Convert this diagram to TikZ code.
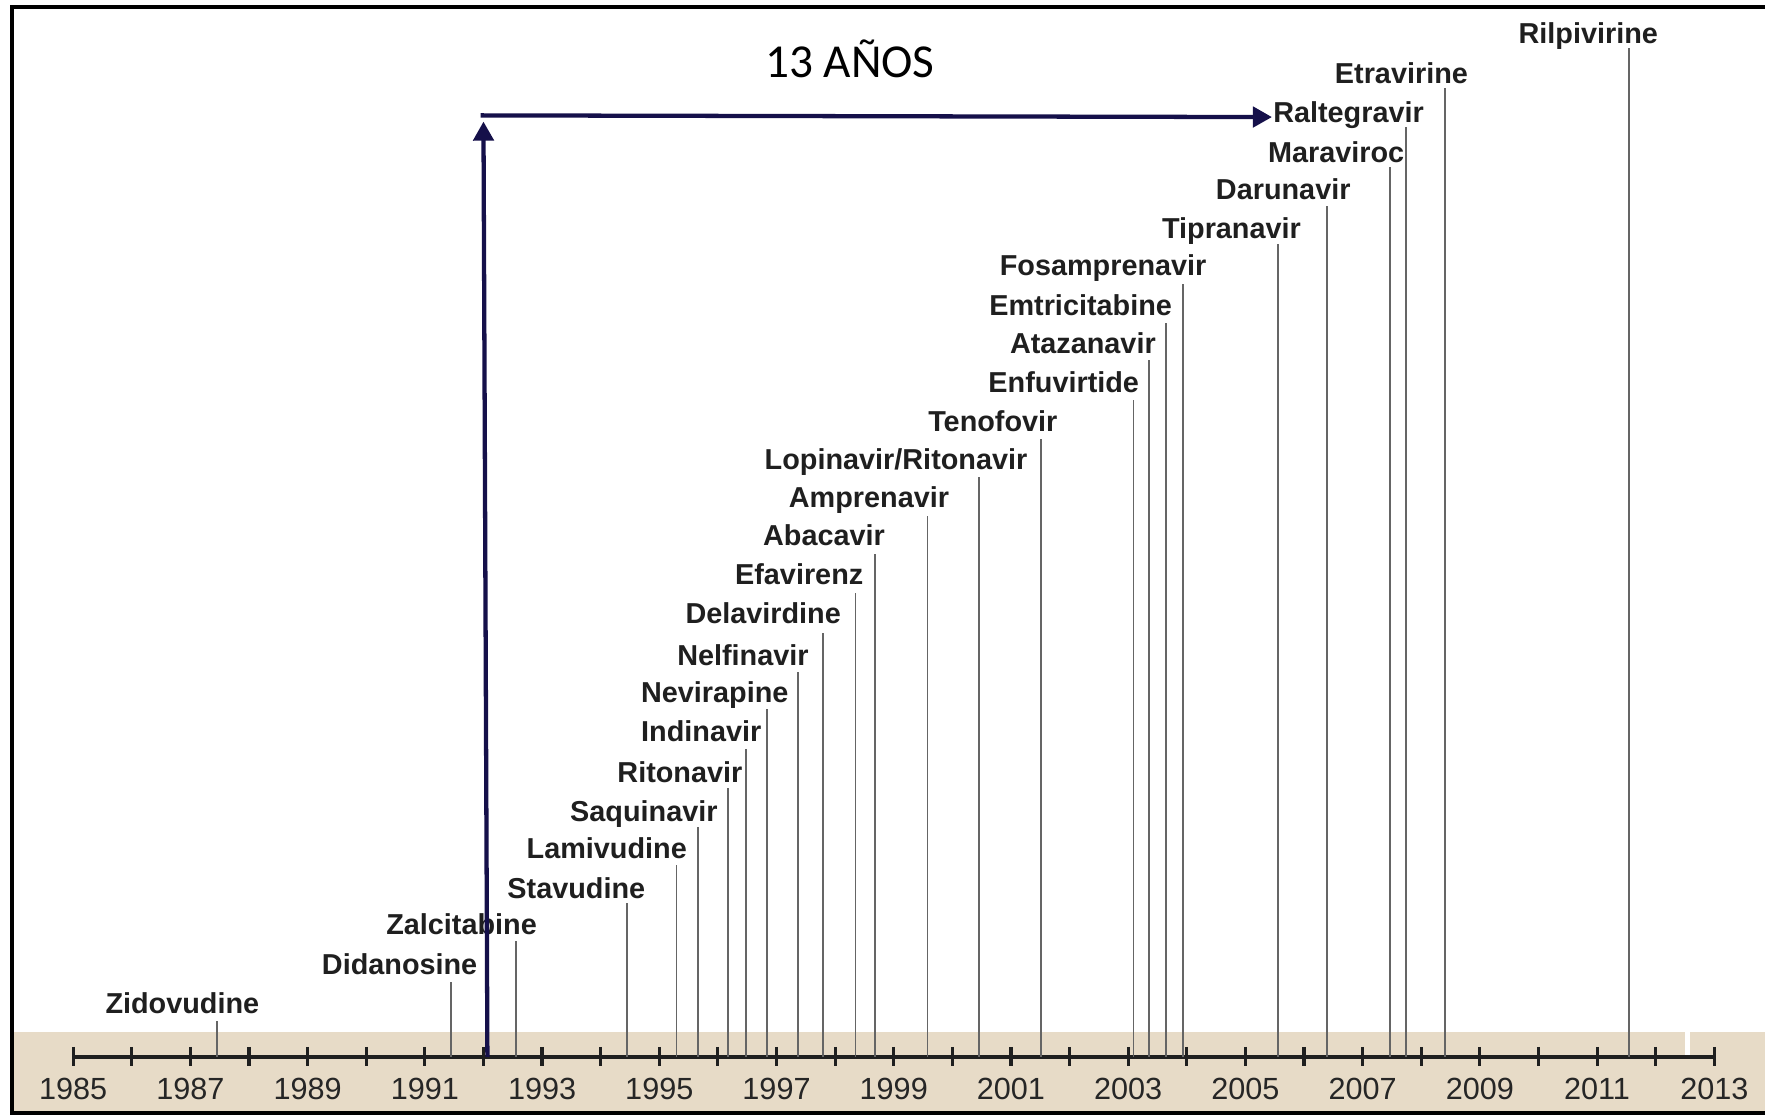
\documentclass[tikz,border=0pt]{standalone}
\usepackage{fontspec}
\setmainfont{Liberation Sans}
\newfontfamily\calib{Carlito}
\usetikzlibrary{arrows.meta}
\definecolor{navy}{HTML}{15104A}
\definecolor{tanband}{HTML}{E7DBC7}
\definecolor{drugcol}{HTML}{656565}
\newcommand{\drug}[6]{%
  \node[druglabel] (#1) at (#2,#3+9) {#4};
  \coordinate (#1t) at (#5,#6);
  \coordinate (#1b) at (#5,939);
  \draw[drugline] (#1b) -- (#1t);}
\begin{document}
\begin{tikzpicture}[x=0.5pt,y=-0.5pt,
  druglabel/.style={anchor=base,inner sep=0pt,font=\fontsize{12.8}{15}\selectfont\bfseries,text=black!88},
  yearlabel/.style={anchor=base,inner sep=0pt,font=\fontsize{13.6}{16}\selectfont,text=black!85},
  drugline/.style={draw=drugcol,line width=0.85pt},
  axisline/.style={draw=black!88,line width=1.4pt},
  navyarrow/.style={draw=navy,line width=1.9pt,-{Triangle[width=9pt,length=8.5pt]}}]
\useasboundingbox (0,0) rectangle (1568,991);
% tan band
\fill[tanband] (12.5,917) rectangle (1568,988);
\draw[white,line width=2.2pt] (1499,917) -- (1499,938);
% frame
\draw[black,line width=1.9pt] (1568,6) -- (10.7,6) -- (10.7,989) -- (1568,989);
% axis
\coordinate (a0) at (65,939);
\coordinate (a1) at (1523,939);
\draw[axisline] (a0) -- (a1);
\foreach \i in {0,...,28}{
  \draw[axisline] ({65+\i*52.07},930) -- ({65+\i*52.07},947);
}
\foreach \i in {0,2,...,28}{
  \pgfmathtruncatemacro{\yr}{1985+\i}
  \node[yearlabel] (y\yr) at ({65+\i*52.07},977) {\yr};
}
% drugs
\drug{zid}{162}{891}{Zidovudine}{193}{907}
\drug{did}{355}{857}{Didanosine}{401}{872}
\drug{zal}{410}{821}{Zalcitabine}{458}{836}
\drug{sta}{512}{789}{Stavudine}{557}{802}
\drug{lam}{539}{754}{Lamivudine}{601}{768}
\drug{saq}{572}{721}{Saquinavir}{620}{735}
\drug{rit}{604}{686}{Ritonavir}{647}{700}
\drug{ind}{623}{650}{Indinavir}{663}{665}
\drug{nev}{635}{615}{Nevirapine}{681}{630}
\drug{nel}{660}{582}{Nelfinavir}{709}{597}
\drug{del}{678}{545}{Delavirdine}{731}{562}
\drug{efa}{710}{510}{Efavirenz}{760}{527}
\drug{aba}{732}{476}{Abacavir}{777}{492}
\drug{amp}{772}{442}{Amprenavir}{824}{458}
\drug{lop}{796}{408}{Lopinavir/Ritonavir}{870}{424}
\drug{ten}{882}{374}{Tenofovir}{925}{390}
\drug{enf}{945}{340}{Enfuvirtide}{1007}{355}
\drug{ata}{962}{305}{Atazanavir}{1021}{320}
\drug{emt}{960}{271}{Emtricitabine}{1036}{287}
\drug{fos}{980}{236}{Fosamprenavir}{1051}{252}
\drug{tip}{1094}{203}{Tipranavir}{1135}{217}
\drug{dar}{1140}{168}{Darunavir}{1179}{183}
\drug{mar}{1187}{135}{Maraviroc}{1235}{148}
\drug{ral}{1198}{100}{Raltegravir}{1249}{113}
\drug{etr}{1245}{65}{Etravirine}{1284}{78}
\drug{ril}{1411}{30}{Rilpivirine}{1447}{43}
% title
\node[anchor=base,inner sep=0pt,font=\calib\fontsize{21}{24}\selectfont] (title) at (755,69) {13 AÑOS};
% arrows
\coordinate (vb) at (433,939);
\coordinate (vt) at (429.5,108);
\coordinate (hs) at (427,102.5);
\coordinate (he) at (1130,104);
\draw[navyarrow] (vb) -- (vt);
\draw[navyarrow] (hs) -- (he);
\end{tikzpicture}
\end{document}
